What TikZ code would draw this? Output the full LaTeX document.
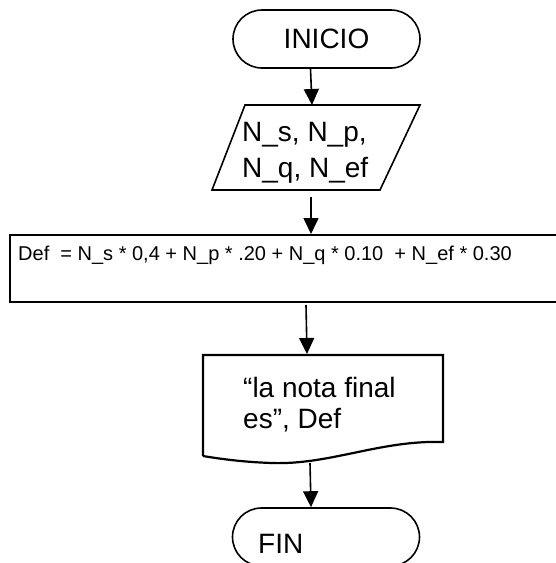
\documentclass[tikz,border=0pt]{standalone}
\usepackage{fontspec}
\setmainfont{Liberation Sans}
\usetikzlibrary{shapes.misc, arrows.meta, positioning}

\begin{document}
\begin{tikzpicture}[x=1pt, y=-1pt,
    terminal/.style={draw, rounded rectangle, line width=1.6pt, minimum width=187pt, minimum height=58pt, inner sep=0pt},
    flow/.style={-{Triangle[length=16pt,width=15pt]}, line width=1.6pt},
    big/.style={font=\fontsize{28}{36}\selectfont, align=left, inner sep=0pt},
    small/.style={font=\fontsize{20}{24}\selectfont, inner sep=0pt}]
  \useasboundingbox (0,0) rectangle (556,563);
  \clip (0,0) rectangle (556,563);
  % start
  \node[terminal, font=\fontsize{28}{34}\selectfont] (inicio) at (326.5,39) {INICIO};
  % input
  \draw[line width=1.6pt] (245,105) -- (420,105) -- (380,190) -- (212,190) -- cycle;
  \node[big, anchor=base west] (datos) at (242,177) {N\_s, N\_p,\\N\_q, N\_ef};
  \coordinate (datos-n) at (312,105);
  \coordinate (datos-s) at (311,197);
  % process
  \node[draw, line width=2.4pt, minimum width=565pt, minimum height=67pt, inner sep=0pt] (calc) at (292.5,268.5) {};
  \node[small, anchor=base west] (calctxt) at (18,260) {Def\ \ = N\_s * 0,4 + N\_p * .20 + N\_q * 0.10\ \ + N\_ef * 0.30};
  \coordinate (calc-n) at (311,234);
  \coordinate (calc-s) at (306,305);
  % output document
  \draw[line width=2.2pt] (203,456) -- (203,355) -- (443,355) -- (443,442)
    .. controls (380,440) and (330,465) .. (272,463)
    .. controls (240,462) and (215,458) .. (203,456);
  \node[font=\fontsize{28}{31}\selectfont, align=left, inner sep=0pt, anchor=base west] (salida) at (243,428) {``la nota final\\es'', Def};
  \coordinate (salida-n) at (307,354);
  \coordinate (salida-s) at (310,463);
  % end
  \node[terminal] (fin) at (326,537) {};
  \node[big, anchor=base west] (fintxt) at (258,553) {FIN};
  % arrows
  \draw[flow] ([xshift=-16pt]inicio.south) -- (datos-n);
  \draw[flow] (datos-s) -- (calc-n);
  \draw[flow] (calc-s) -- (salida-n);
  \draw[flow] (salida-s) -- ([xshift=-15pt]fin.north);
\end{tikzpicture}
\end{document}
